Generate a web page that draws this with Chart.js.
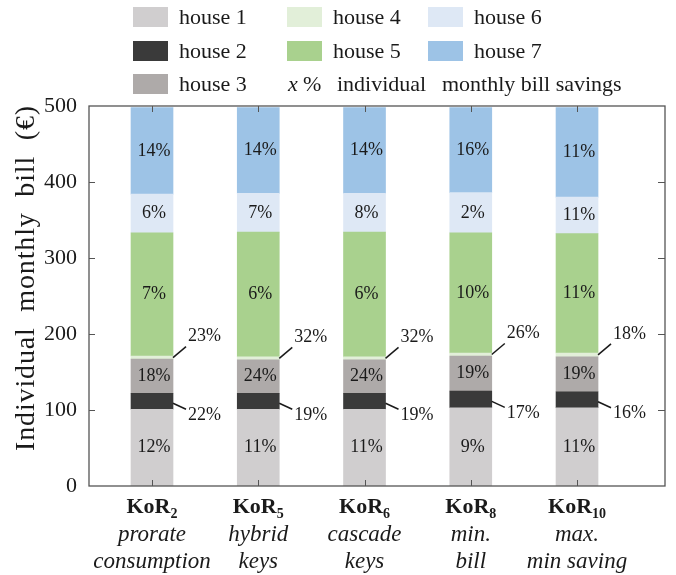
<!DOCTYPE html>
<html>
<head>
<meta charset="utf-8">
<script src="https://cdn.jsdelivr.net/npm/chart.js@4/dist/chart.umd.min.js"></script>
<style>
  body { margin: 0; background: #fff; }
  #wrap { width: 676px; height: 575px; }
</style>
</head>
<body>
<div id="wrap"><canvas id="billChart" width="676" height="575"></canvas></div>
<script>
// categories (key of repartition) and their descriptions
const keyNames = ['KoR', 'KoR', 'KoR', 'KoR', 'KoR'];
const keySubs = ['2', '5', '6', '8', '10'];
const keyLine1 = ['prorate', 'hybrid', 'cascade', 'min.', 'max.'];
const keyLine2 = ['consumption', 'keys', 'keys', 'bill', 'min saving'];

// monthly bill per house (€), stacked
const house1 = [101, 101, 101, 103, 103];
const house2 = [21, 21, 21, 22, 21];
const house3 = [45, 44, 44, 46, 46];
const house4 = [4, 4, 4, 4, 5];
const house5 = [162, 164, 164, 158, 157];
const house6 = [51, 51, 51, 53, 48];
const house7 = [114, 113, 113, 112, 118];

// individual monthly bill savings (%)
const save1 = ['12%', '11%', '11%', '9%', '11%'];
const save2 = ['22%', '19%', '19%', '17%', '16%'];
const save3 = ['18%', '24%', '24%', '19%', '19%'];
const save4 = ['23%', '32%', '32%', '26%', '18%'];
const save5 = ['7%', '6%', '6%', '10%', '11%'];
const save6 = ['6%', '7%', '8%', '2%', '11%'];
const save7 = ['14%', '14%', '14%', '16%', '11%'];

const yTicks = [0, 100, 200, 300, 400, 500];

const houseNames = ['house 1', 'house 2', 'house 3', 'house 4', 'house 5', 'house 6', 'house 7'];
const houseColors = ['#d0cecf', '#3a3a3a', '#aeaaa9', '#e2efd9', '#a9d18e', '#dee8f5', '#9dc3e6'];
const houseValues = [house1, house2, house3, house4, house5, house6, house7];
const houseSavings = [save1, save2, save3, save4, save5, save6, save7];

const SERIF = "'Liberation Serif', 'Times New Roman', serif";
const INK = '#1a1a1a';
const FRAME = '#555';

const datasets = houseValues.map((vals, h) => ({
  label: houseNames[h],
  data: vals.map((v, i) => ({ x: i, y: v })),
  backgroundColor: houseColors[h],
  borderWidth: 0,
  barThickness: 42,
  savings: houseSavings[h]
}));

// labels, frame, ticks, legend, axis text
const decorations = {
  id: 'decorations',
  afterDatasetsDraw(chart) {
    const ctx = chart.ctx;
    const area = chart.chartArea;
    const xs = chart.scales.x;
    const ys = chart.scales.y;
    ctx.save();

    // percentage labels
    ctx.fillStyle = INK;
    ctx.font = '18px ' + SERIF;
    chart.data.datasets.forEach((ds, h) => {
      const meta = chart.getDatasetMeta(h);
      meta.data.forEach((el, i) => {
        const mid = (el.y + el.base) / 2;
        const right = el.x + el.width / 2;
        const txt = ds.savings[i];
        if (h === 1 || h === 3) {
          const up = h === 3;
          ctx.strokeStyle = INK;
          ctx.lineWidth = 1.5;
          ctx.beginPath();
          ctx.moveTo(right, up ? mid : mid + 2);
          ctx.lineTo(right + 13, up ? mid - 11 : mid + 8);
          ctx.stroke();
          ctx.textAlign = 'left';
          ctx.textBaseline = 'middle';
          ctx.fillText(txt, right + 15, up ? mid - 21 : mid + 14);
        } else {
          ctx.textAlign = 'center';
          ctx.textBaseline = 'middle';
          ctx.fillText(txt, el.x + 2, mid);
        }
      });
    });

    // frame and inward ticks
    ctx.strokeStyle = FRAME;
    ctx.lineWidth = 1.3;
    ctx.strokeRect(area.left, area.top, area.right - area.left, area.bottom - area.top);
    ctx.lineWidth = 1;
    ctx.beginPath();
    yTicks.slice(1, -1).forEach(v => {
      const py = Math.round(ys.getPixelForValue(v)) + 0.5;
      ctx.moveTo(area.left, py); ctx.lineTo(area.left + 6, py);
      ctx.moveTo(area.right, py); ctx.lineTo(area.right - 7, py);
    });
    keyNames.forEach((k, i) => {
      const px = Math.round(xs.getPixelForValue(i)) + 0.5;
      ctx.moveTo(px, area.top); ctx.lineTo(px, area.top + 6);
      ctx.moveTo(px, area.bottom); ctx.lineTo(px, area.bottom - 6);
    });
    ctx.stroke();

    // category labels with subscripts
    ctx.fillStyle = INK;
    ctx.textBaseline = 'alphabetic';
    keyNames.forEach((k, i) => {
      const cx = xs.getPixelForValue(i);
      ctx.font = 'bold 22px ' + SERIF;
      const wMain = ctx.measureText(k).width;
      ctx.font = 'bold 14px ' + SERIF;
      const wSub = ctx.measureText(keySubs[i]).width;
      const x0 = cx - (wMain + wSub) / 2;
      ctx.textAlign = 'left';
      ctx.font = 'bold 22px ' + SERIF;
      ctx.fillText(k, x0, 513);
      ctx.font = 'bold 14px ' + SERIF;
      ctx.fillText(keySubs[i], x0 + wMain, 518);
      ctx.textAlign = 'center';
      ctx.font = 'italic 23px ' + SERIF;
      ctx.fillText(keyLine1[i], cx, 541);
      ctx.fillText(keyLine2[i], cx, 568);
    });

    // y axis title
    const title = 'Individual  monthly  bill  (€)';
    ctx.font = '28px ' + SERIF;
    const tw = ctx.measureText(title).width;
    ctx.letterSpacing = Math.max(0, (345 - tw) / (title.length - 1)) + 'px';
    ctx.translate(27, 278);
    ctx.rotate(-Math.PI / 2);
    ctx.textAlign = 'center';
    ctx.textBaseline = 'middle';
    ctx.fillText(title, 0, 0);
    ctx.setTransform(1, 0, 0, 1, 0, 0);
    ctx.letterSpacing = '0px';

    // legend
    const colX = [133, 287, 428];
    const rowY = [17, 51, 84];
    ctx.font = '22px ' + SERIF;
    ctx.textAlign = 'left';
    ctx.textBaseline = 'alphabetic';
    houseNames.forEach((name, h) => {
      const col = h < 3 ? 0 : (h < 5 ? 1 : 2);
      const row = h < 3 ? h : (h < 5 ? h - 3 : h - 5);
      const sx = colX[col], sy = rowY[row];
      ctx.fillStyle = houseColors[h];
      ctx.fillRect(sx, sy - 10, 35, 20);
      ctx.fillStyle = INK;
      ctx.fillText(name, sx + 46, sy + 7);
    });
    ctx.font = 'italic 22px ' + SERIF;
    ctx.fillText('x', colX[1] + 1, rowY[2] + 7);
    ctx.font = '22px ' + SERIF;
    ctx.fillText('%', colX[1] + 16, rowY[2] + 7);
    ctx.fillText('individual', 337, rowY[2] + 7);
    ctx.fillText('monthly bill savings', 442, rowY[2] + 7);

    ctx.restore();
  }
};

new Chart(document.getElementById('billChart'), {
  type: 'bar',
  data: { datasets },
  options: {
    responsive: false,
    animation: false,
    layout: { padding: { top: 106, right: 11, bottom: 89, left: 0 } },
    plugins: { legend: { display: false }, tooltip: { enabled: false } },
    scales: {
      x: {
        type: 'linear',
        stacked: true,
        offset: false,
        min: -0.593,
        max: 4.828,
        display: false
      },
      y: {
        stacked: true,
        min: 0,
        max: 500,
        afterFit: (scale) => { scale.width = 89; },
        grid: { display: false },
        border: { display: false },
        ticks: {
          stepSize: 100,
          padding: 4,
          color: INK,
          font: { family: SERIF, size: 22 }
        }
      }
    }
  },
  plugins: [decorations]
});
</script>
</body>
</html>
